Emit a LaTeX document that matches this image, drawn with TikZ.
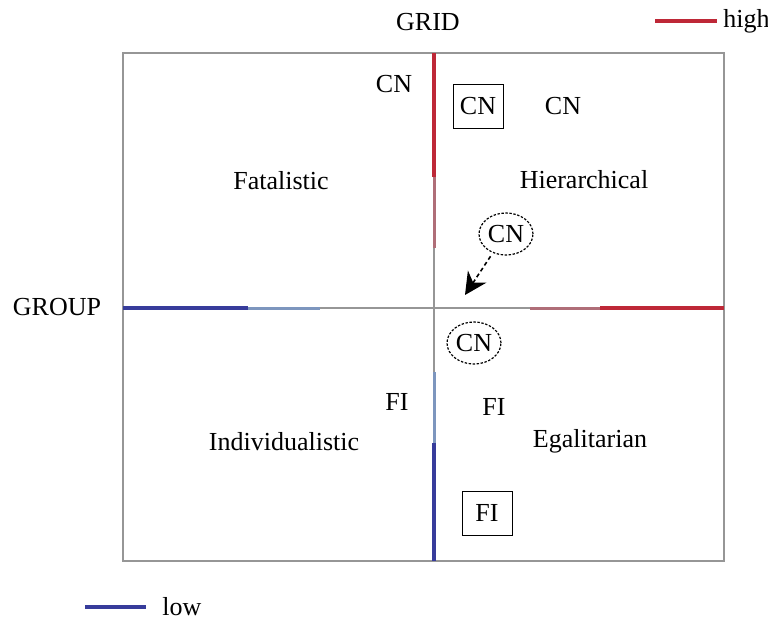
\documentclass[tikz,border=0pt]{standalone}
\usepackage{fontspec}
\setmainfont{Liberation Serif}
\usepackage{tikz}
\usetikzlibrary{shapes.geometric,arrows.meta}
\definecolor{gridred}{RGB}{190, 40, 55}
\definecolor{fadered}{RGB}{175, 110, 120}
\definecolor{groupblue}{RGB}{55, 60, 155}
\definecolor{fadeblue}{RGB}{125, 150, 190}
\definecolor{framegray}{RGB}{150, 150, 150}

\begin{document}
\begin{tikzpicture}[x=0.5pt, y=-0.5pt, font=\fontsize{13}{15}\selectfont,
        markbox/.style={draw, minimum width=25pt, minimum height=22pt, inner sep=2pt},
        markring/.style={draw, ellipse, line width=0.6pt, dash pattern=on 1.2pt off 0.8pt, minimum width=27pt, minimum height=21pt, inner sep=0pt}]
            \pgfmathsetmacro{\leftX}{123}
            \pgfmathsetmacro{\midX}{434}
            \pgfmathsetmacro{\rightX}{724}
            \pgfmathsetmacro{\topY}{53}
            \pgfmathsetmacro{\midY}{308}
            \pgfmathsetmacro{\botY}{561}

            \useasboundingbox (0, 0) rectangle (768, 621);

            % frame and the two axes
            \draw[framegray, line width=1.2pt] (\leftX, \topY) rectangle (\rightX, \botY);
            \draw[framegray, line width=1.2pt] (\midX, \topY) -- (\midX, \botY);
            \draw[framegray, line width=1.2pt] (\leftX, \midY) -- (\rightX, \midY);

            % grid axis, high on top and low below
            \draw[fadered, line width=1.5pt] (\midX, 175) -- (\midX, 248);
            \draw[gridred, line width=1.7pt] (\midX, \topY) -- (\midX, 177);
            \draw[fadeblue, line width=1.5pt] (\midX, 372) -- (\midX, 445);
            \draw[groupblue, line width=1.7pt] (\midX, 443) -- (\midX, \botY);

            % group axis, low on the left and high on the right
            \draw[fadeblue, line width=1.5pt] (245, \midY) -- (320, \midY);
            \draw[groupblue, line width=1.7pt] (\leftX, \midY) -- (248, \midY);
            \draw[fadered, line width=1.5pt] (530, \midY) -- (603, \midY);
            \draw[gridred, line width=1.7pt] (600, \midY) -- (\rightX, \midY);

            % axis names
            \node (grid) at (428, 22) {GRID};
            \node (group) at (57, 307) {GROUP};

            % legend
            \node[anchor=west, inner sep=1pt] (high) at (721, 21) {high};
            \draw[gridred, line width=2pt] (655, 21) -- (717, 21);
            \node[anchor=west, inner sep=1pt] (low) at (160, 607) {low};
            \draw[groupblue, line width=2pt] (85, 607) -- (146, 607);

            % quadrant names
            \node (fat) at (281, 181) {Fatalistic};
            \node (hier) at (584, 180) {Hierarchical};
            \node (indiv) at (284, 442) {Individualistic};
            \node (egal) at (590, 441) {Egalitarian};

            % CN and FI marks
            \node (cn1) at (394, 84) {CN};
            \node[markbox] (cn2) at (478, 106) {CN};
            \node (cn3) at (563, 106) {CN};
            \node[markring] (cn4) at (506, 234) {CN};
            \node[markring] (cn5) at (474, 343) {CN};
            \node (fi1) at (397, 402) {FI};
            \node (fi2) at (494, 407) {FI};
            \node[markbox] (fi3) at (487, 513) {FI};

            % arrow from the circled CN down to the centre
            \coordinate (tip) at (465, 295);
            \draw[line width=0.8pt, dash pattern=on 2pt off 1.5pt, -{Stealth[length=11pt, width=11pt]}, shorten <=2pt] (cn4.-125) -- (tip);

        \end{tikzpicture}
\end{document}
